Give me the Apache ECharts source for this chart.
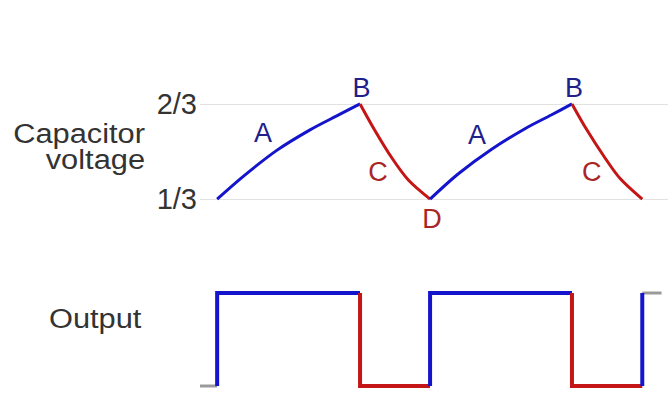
<!DOCTYPE html>
<html>
<head>
<meta charset="utf-8">
<script src="https://cdn.jsdelivr.net/npm/echarts@6/dist/echarts.min.js"></script>
<style>
    html, body { margin: 0; padding: 0; background: #fff; }
    #chart { width: 668px; height: 393px; }
</style>
</head>
<body>
<div id="chart"></div>
<script>
// time in units of one charge period, voltage as a fraction of Vcc
var chargeA1T = [0, 0.183, 0.417, 0.650, 0.837, 1.0];
var chargeA1V = [0.333, 0.413, 0.504, 0.576, 0.625, 0.667];
var dischargeC1T = [1.0, 1.105, 1.222, 1.338, 1.49];
var dischargeC1V = [0.667, 0.573, 0.478, 0.400, 0.333];
var chargeA2T = [1.49, 1.688, 1.921, 2.154, 2.341, 2.483];
var chargeA2V = [0.333, 0.422, 0.508, 0.580, 0.629, 0.667];
var dischargeC2T = [2.483, 2.587, 2.704, 2.820, 2.975];
var dischargeC2V = [0.667, 0.576, 0.485, 0.405, 0.333];

var yTicks = {'0.333': '1/3', '0.667': '2/3'};

// output edges (time) and the level after each edge
var edgeT = [0, 1.0, 1.49, 2.483, 2.975];
var edgeLevel = [1, 0, 1, 0, 1];
var idleStartT = -0.12, idleEndT = 3.11;

// point labels: time, voltage, letter
var pointLabels = [
    [0.32, 0.565, 'A'],
    [1.01, 0.723, 'B'],
    [1.126, 0.428, 'C'],
    [1.503, 0.262, 'D'],
    [1.818, 0.558, 'A'],
    [2.497, 0.723, 'B'],
    [2.622, 0.428, 'C']
];

var BLUE = '#1414cc', RED = '#c41616', GRAY = '#9a9a9a';
var FONT = 'Liberation Sans, Arial, sans-serif';

function zip(t, v) {
    var out = [];
    for (var i = 0; i < t.length; i++) out.push([t[i], v[i]]);
    return out;
}

function curve(t, v, color) {
    return {
        type: 'line', xAxisIndex: 0, yAxisIndex: 0,
        data: zip(t, v), smooth: 0.3,
        symbol: 'none', clip: false,
        lineStyle: { color: color, width: 3 }, z: 3
    };
}

var series = [
    curve(chargeA1T, chargeA1V, BLUE),
    curve(dischargeC1T, dischargeC1V, RED),
    curve(chargeA2T, chargeA2V, BLUE),
    curve(dischargeC2T, dischargeC2V, RED)
];

// square wave: each edge plus the flat part that follows it
for (var i = 0; i < edgeT.length; i++) {
    var lv = edgeLevel[i];
    var endT = i + 1 < edgeT.length ? edgeT[i + 1] : edgeT[i];
    series.push({
        type: 'line', xAxisIndex: 1, yAxisIndex: 1, symbol: 'none', clip: false,
        data: [[edgeT[i], 1 - lv], [edgeT[i], lv], [endT, lv]],
        lineStyle: { color: lv ? BLUE : RED, width: 4, join: 'miter' }, z: 3
    });
}
series.push({
    type: 'line', xAxisIndex: 1, yAxisIndex: 1, symbol: 'none', clip: false,
    data: [[idleStartT, 0], [edgeT[0], 0]],
    lineStyle: { color: GRAY, width: 3 }, z: 2
});
series.push({
    type: 'line', xAxisIndex: 1, yAxisIndex: 1, symbol: 'none', clip: false,
    data: [[edgeT[edgeT.length - 1], 1], [idleEndT, 1]],
    lineStyle: { color: GRAY, width: 3 }, z: 2
});

series.push({
    type: 'scatter', xAxisIndex: 0, yAxisIndex: 0, symbolSize: 0, clip: false,
    itemStyle: { opacity: 1 },
    data: pointLabels.map(function (p) {
        var blue = p[2] === 'A' || p[2] === 'B';
        return {
            value: [p[0], p[1]],
            label: {
                show: true, position: 'inside', formatter: p[2],
                fontSize: 27, fontFamily: FONT,
                color: blue ? '#20208a' : '#aa2626'
            }
        };
    }),
    z: 4
});

var chart = echarts.init(document.getElementById('chart'), null, { renderer: 'svg' });
chart.setOption({
    animation: false,
    backgroundColor: '#fff',
    grid: [
        { left: 200, right: 0, top: 104, height: 95 },
        { left: 200, right: 0, top: 293, height: 93 }
    ],
    xAxis: [0, 1].map(function (g) {
        return {
            type: 'value', gridIndex: g, min: -0.12, max: 3.155,
            show: false
        };
    }),
    yAxis: [
        {
            type: 'value', gridIndex: 0, min: 1 / 3, max: 2 / 3, interval: 1 / 3,
            axisLine: { show: false }, axisTick: { show: false },
            splitLine: { show: true, lineStyle: { color: '#e2e2e2', width: 1 } },
            axisLabel: {
                margin: 3, fontSize: 29, fontFamily: FONT, color: '#333',
                formatter: function (v) { return yTicks[v.toFixed(3)] || ''; }
            }
        },
        { type: 'value', gridIndex: 1, min: 0, max: 1, show: false }
    ],
    graphic: [
        {
            type: 'text', x: 145, y: 133, scaleX: 1.1, originX: 0,
            style: {
                text: 'Capacitor', align: 'right', verticalAlign: 'middle',
                font: '28px ' + FONT, fill: '#333'
            }
        },
        {
            type: 'text', x: 145, y: 159, scaleX: 1.1, originX: 0,
            style: {
                text: 'voltage', align: 'right', verticalAlign: 'middle',
                font: '28px ' + FONT, fill: '#333'
            }
        },
        {
            type: 'text', x: 49, y: 318, scaleX: 1.1, originX: 0,
            style: {
                text: 'Output', align: 'left', verticalAlign: 'middle',
                font: '28px ' + FONT, fill: '#333'
            }
        }
    ],
    series: series
});
</script>
</body>
</html>
